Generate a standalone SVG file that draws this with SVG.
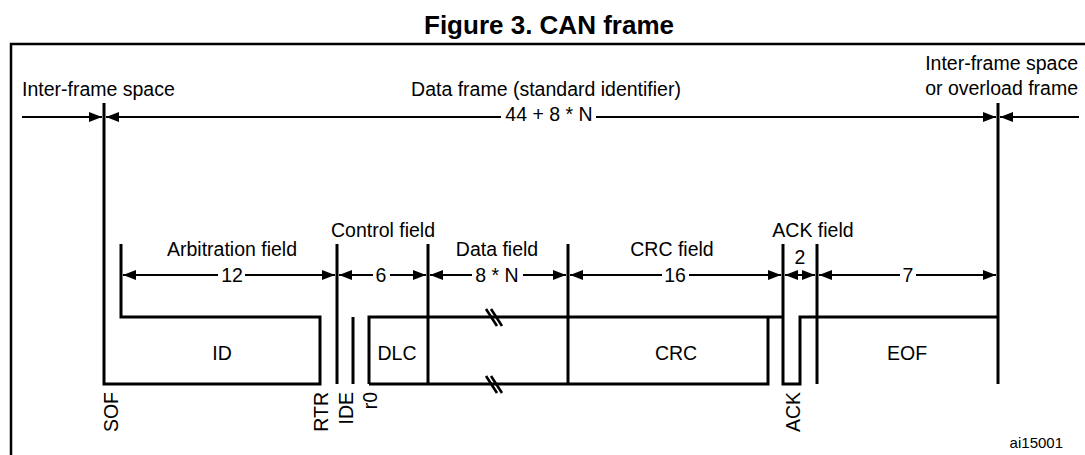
<svg xmlns="http://www.w3.org/2000/svg" width="1085" height="455" viewBox="0 0 1085 455">
<style>
text{font-family:"Liberation Sans",Arial,sans-serif;font-size:19.5px;fill:#000}
.title{font-size:26px;font-weight:bold}
.c{text-anchor:middle}
.e{text-anchor:end}
.small{font-size:15px}
.thick{stroke:#000;stroke-width:3;fill:none}
.dim{stroke:#000;stroke-width:2;fill:none}
.brk{stroke:#000;stroke-width:2.6;fill:none}
</style>
<defs>
<marker id="ah" viewBox="0 0 13 10" refX="13" refY="5" markerWidth="13" markerHeight="10" markerUnits="userSpaceOnUse" orient="auto-start-reverse">
<path d="M0,0 L13,5 L0,10 Z" fill="#000"/>
</marker>
</defs>
<rect width="1085" height="455" fill="#fff"/>
<text class="title c" x="549" y="34">Figure 3. CAN frame</text>
<path d="M11,455 V44 H1085" stroke="#000" stroke-width="2.5" fill="none"/>

<g id="top-labels">
<text x="22" y="96">Inter-frame space</text>
<text class="c" x="546" y="96">Data frame (standard identifier)</text>
<text class="e" x="1078" y="70">Inter-frame space</text>
<text class="e" x="1078" y="95">or overload frame</text>
<text class="c" x="549" y="121">44 + 8 * N</text>
</g>

<g id="waveform">
<path class="thick" d="M104,103 V384 H320 V317 H121 V244"/>
<path class="thick" d="M337,244 V384"/>
<path class="thick" d="M353,317 V384"/>
<path class="thick" d="M369,384 V317 H783"/>
<path class="thick" d="M369,384 H768 V317"/>
<path class="thick" d="M428,244 V384"/>
<path class="thick" d="M568,244 V384"/>
<path class="thick" d="M783,244 V384 H800 V317 H998"/>
<path class="thick" d="M817,244 V384"/>
<path class="thick" d="M998,103 V384"/>
<path class="brk" d="M486,309 L497,326 M491,309 L502,326 M486,376 L497,393 M491,376 L502,393"/>
</g>

<g id="fields">
<text class="c" x="232" y="256">Arbitration field</text>
<text class="c" x="383" y="237">Control field</text>
<text class="c" x="497" y="256">Data field</text>
<text class="c" x="672" y="256">CRC field</text>
<text class="c" x="813" y="237">ACK field</text>
<text class="c" x="222" y="360">ID</text>
<text class="c" x="397" y="360">DLC</text>
<text class="c" x="676" y="360">CRC</text>
<text class="c" x="907" y="360">EOF</text>
<text class="c" x="232" y="282">12</text>
<text class="c" x="381" y="282">6</text>
<text class="c" x="497" y="282">8 * N</text>
<text class="c" x="675" y="282">16</text>
<text class="c" x="800" y="264">2</text>
<text class="c" x="908" y="282">7</text>
</g>

<g id="bit-labels">
<text class="e" transform="translate(118,392) rotate(-90)">SOF</text>
<text class="e" transform="translate(328,392) rotate(-90)">RTR</text>
<text class="e" transform="translate(353,392) rotate(-90)">IDE</text>
<text class="e" transform="translate(377,392) rotate(-90)">r0</text>
<text class="e" transform="translate(800,392) rotate(-90)">ACK</text>
<text class="e small" x="1063" y="448">ai15001</text>
</g>

<g id="connectors">
<path class="dim" d="M22,117 H102" marker-end="url(#ah)"/>
<path class="dim" d="M106,117 H501" marker-start="url(#ah)"/>
<path class="dim" d="M596,117 H996" marker-end="url(#ah)"/>
<path class="dim" d="M1079,117 H1000" marker-end="url(#ah)"/>

<path class="dim" d="M123,275 H218" marker-start="url(#ah)"/>
<path class="dim" d="M245,275 H335" marker-end="url(#ah)"/>
<path class="dim" d="M339,275 H373" marker-start="url(#ah)"/>
<path class="dim" d="M390,275 H426" marker-end="url(#ah)"/>
<path class="dim" d="M430,275 H472" marker-start="url(#ah)"/>
<path class="dim" d="M523,275 H566" marker-end="url(#ah)"/>
<path class="dim" d="M570,275 H662" marker-start="url(#ah)"/>
<path class="dim" d="M689,275 H781" marker-end="url(#ah)"/>
<path class="dim" d="M785,275 H815" marker-start="url(#ah)" marker-end="url(#ah)"/>
<path class="dim" d="M819,275 H900" marker-start="url(#ah)"/>
<path class="dim" d="M916,275 H996" marker-end="url(#ah)"/>
</g>
</svg>
